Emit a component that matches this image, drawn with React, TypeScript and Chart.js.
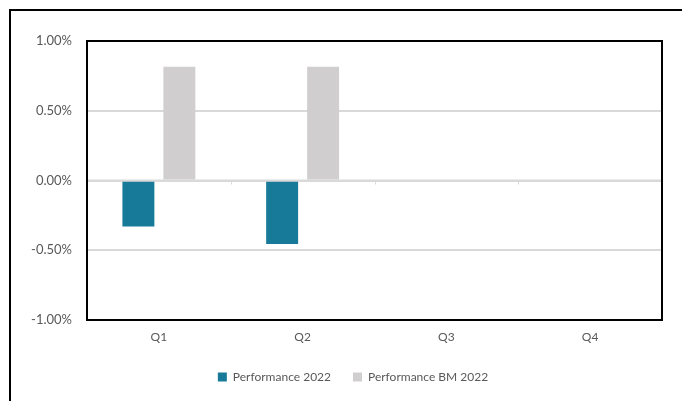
import React, { useEffect, useRef } from "react";
import { Chart, registerables } from "chart.js";

Chart.register(...registerables);

const categories = ["Q1", "Q2", "Q3", "Q4"];
const performance2022 = [-0.33, -0.455, null, null];
const performanceBM2022 = [0.815, 0.815, null, null];
const yTicks = { min: -1, max: 1, step: 0.5 };

const FONT = "Lato, 'Open Sans', sans-serif";

const framePlugin = {
  id: "framePlugin",
  afterLayout(chart: any) {
    if (chart.legend) {
      chart.legend.left += 22;
      chart.legend.right += 22;
    }
  },
  afterDraw(chart: any) {
    const { ctx, chartArea, scales } = chart;
    const x = scales.x;
    const y = scales.y;
    const y0 = y.getPixelForValue(0);
    ctx.save();
    ctx.strokeStyle = "#d9d9d9";
    ctx.lineWidth = 2;
    ctx.beginPath();
    ctx.moveTo(chartArea.left, y0);
    ctx.lineTo(chartArea.right, y0);
    ctx.stroke();
    ctx.lineWidth = 1;
    const half = (x.getPixelForValue(1) - x.getPixelForValue(0)) / 2;
    for (let i = 0; i < categories.length - 1; i++) {
      const bx = Math.round(x.getPixelForValue(i) + half) + 0.5;
      ctx.beginPath();
      ctx.moveTo(bx, y0);
      ctx.lineTo(bx, y0 + 4);
      ctx.stroke();
    }
    ctx.strokeStyle = "#000";
    ctx.lineWidth = 2;
    ctx.strokeRect(chartArea.left, chartArea.top, chartArea.right - chartArea.left, chartArea.bottom - chartArea.top);
    ctx.restore();
  },
};

export default function App() {
  const ref = useRef<HTMLCanvasElement>(null);
  useEffect(() => {
    if (!ref.current) return;
    const chart = new Chart(ref.current, {
      type: "bar",
      data: {
        labels: categories,
        datasets: [
          {
            label: "Performance 2022",
            data: performance2022,
            backgroundColor: "#187a99",
            categoryPercentage: 0.57,
            barPercentage: 0.78,
          },
          {
            label: "Performance BM 2022",
            data: performanceBM2022,
            backgroundColor: "#d0cece",
            categoryPercentage: 0.57,
            barPercentage: 0.78,
          },
        ],
      },
      options: {
        responsive: false,
        animation: false,
        layout: { padding: { top: 41, right: 20, left: 0, bottom: 8 } },
        plugins: {
          tooltip: { enabled: false },
          legend: {
            position: "bottom",
            labels: {
              boxWidth: 9,
              boxHeight: 9,
              padding: 22,
              color: "#595959",
              font: { family: FONT, size: 12 },
            },
          },
        },
        scales: {
          x: {
            grid: { display: false, drawTicks: false },
            border: { display: false },
            ticks: { color: "#595959", font: { family: FONT, size: 12 }, padding: 10 },
            afterFit: (s: any) => {
              s.height = 29;
            },
          },
          y: {
            min: yTicks.min,
            max: yTicks.max,
            grid: { color: "#d9d9d9", lineWidth: 2, drawTicks: false },
            border: { display: false },
            ticks: {
              stepSize: yTicks.step,
              color: "#595959",
              font: { family: FONT, size: 13 },
              padding: 15,
              callback: (v: any) => Number(v).toFixed(2) + "%",
            },
            afterFit: (s: any) => {
              s.width = 87;
            },
          },
        },
      },
      plugins: [framePlugin],
    });
    return () => chart.destroy();
  }, []);
  return (
    <div style={{ position: "fixed", left: 0, top: 0, width: 682, height: 401, overflow: "hidden", background: "#fff" }}>
      <canvas ref={ref} width={682} height={401} style={{ position: "absolute", left: 0, top: 0 }} />
      <div
        style={{
          position: "absolute",
          left: 9,
          top: 9,
          width: 720,
          height: 440,
          border: "2px solid #000",
          pointerEvents: "none",
        }}
      />
    </div>
  );
}
